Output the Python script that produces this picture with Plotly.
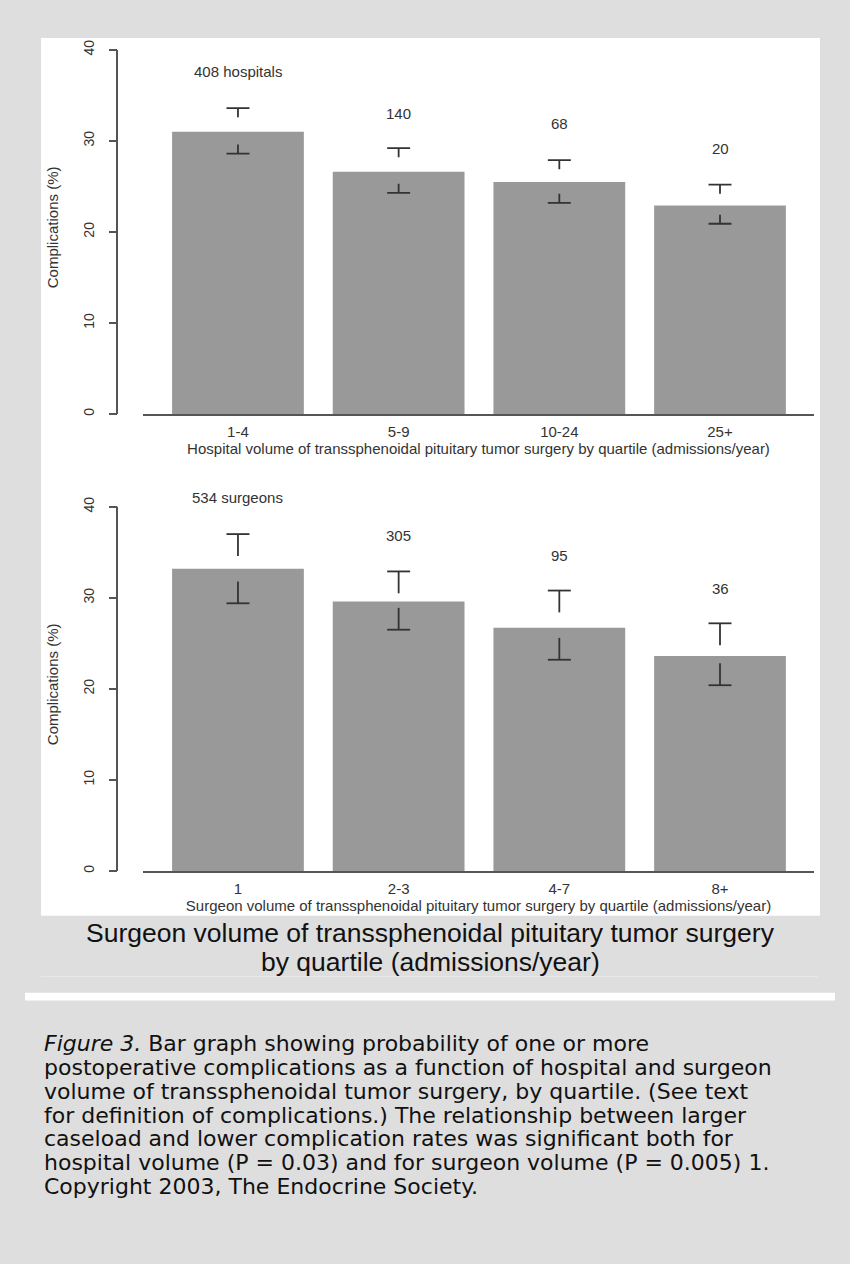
import plotly.graph_objects as go

# ---------------- data ----------------
hosp_categories = ["1-4", "5-9", "10-24", "25+"]
hosp_values = [31.0, 26.6, 25.5, 22.9]
hosp_upper = [33.6, 29.2, 27.9, 25.2]
hosp_lower = [28.6, 24.3, 23.2, 20.9]
hosp_counts = ["408 hospitals", "140", "68", "20"]
hosp_count_y = [37.6, 33.0, 31.9, 29.2]

surg_categories = ["1", "2-3", "4-7", "8+"]
surg_values = [33.2, 29.6, 26.7, 23.6]
surg_upper = [37.0, 32.9, 30.8, 27.2]
surg_lower = [29.4, 26.5, 23.2, 20.4]
surg_counts = ["534 surgeons", "305", "95", "36"]
surg_count_y = [41.0, 36.8, 34.6, 31.0]

y_ticks = [0, 10, 20, 30, 40]

hosp_xtitle = "Hospital volume of transsphenoidal pituitary tumor surgery by quartile (admissions/year)"
surg_xtitle = "Surgeon volume of transsphenoidal pituitary tumor surgery by quartile (admissions/year)"
ytitle = "Complications (%)"
caption_lines = ["Surgeon volume of transsphenoidal pituitary tumor surgery",
                 "by quartile (admissions/year)"]
figure_caption = [
    "<i>Figure 3.</i> Bar graph showing probability of one or more",
    "postoperative complications as a function of hospital and surgeon",
    "volume of transsphenoidal tumor surgery, by quartile. (See text",
    "for definition of complications.) The relationship between larger",
    "caseload and lower complication rates was significant both for",
    "hospital volume (P = 0.03) and for surgeon volume (P = 0.005) 1.",
    "Copyright 2003, The Endocrine Society.",
]

# ---------------- layout helpers ----------------
W, H = 850, 1264
def px(x):
    return x / W
def py(y):
    return 1 - y / H

FONT = "Liberation Sans, Arial, sans-serif"
CAPFONT = "DejaVu Sans, sans-serif"
TXT = "#333333"
BAR = "#999999"
ERR = "#333333"
AX = "#555555"

fig = go.Figure()

def add_panel(xa, ya, cats, vals, up, lo, counts, count_y, stem):
    xs = list(range(len(cats)))
    fig.add_trace(go.Bar(x=xs, y=vals, width=0.82, marker=dict(color=BAR, line=dict(width=0)),
                         xaxis=xa, yaxis=ya, showlegend=False, hoverinfo="skip"))
    ex, ey = [], []
    hw = 0.0715
    for i in xs:
        ex += [i - hw, i + hw, None, i, i, None, i - hw, i + hw, None, i, i, None]
        ey += [up[i], up[i], None, up[i], up[i] - stem, None,
               lo[i], lo[i], None, lo[i], lo[i] + stem, None]
    fig.add_trace(go.Scatter(x=ex, y=ey, mode="lines", line=dict(color=ERR, width=1.8),
                             xaxis=xa, yaxis=ya, showlegend=False, hoverinfo="skip",
                             cliponaxis=False))
    for i in xs:
        fig.add_annotation(x=i, y=count_y[i], xref=xa, yref=ya, text=counts[i],
                           showarrow=False, font=dict(family=FONT, size=15, color=TXT))

add_panel("x", "y", hosp_categories, hosp_values, hosp_upper, hosp_lower,
          hosp_counts, hosp_count_y, 1.0)
add_panel("x2", "y2", surg_categories, surg_values, surg_upper, surg_lower,
          surg_counts, surg_count_y, 2.4)

xrange = [-0.591, 3.585]
yrange = [0, 41]
xdom = [px(143), px(814)]

def xaxis_cfg(cats, title, anchor):
    return dict(domain=xdom, range=xrange, anchor=anchor, tickmode="array",
                tickvals=list(range(len(cats))), ticktext=cats, ticks="",
                showline=True, linecolor=AX, linewidth=2, showgrid=False, zeroline=False,
                tickfont=dict(family=FONT, size=15, color=TXT), ticklabelstandoff=3,
                title=dict(text=title, font=dict(family=FONT, size=15, color=TXT), standoff=4),
                fixedrange=True)

def yaxis_cfg(dom):
    return dict(domain=dom, range=yrange, anchor="free", position=px(117),
                tickmode="array", tickvals=y_ticks, ticks="outside", ticklen=8,
                tickcolor=AX, tickwidth=1.5, tickangle=-90, showline=False,
                showgrid=False, zeroline=False, ticklabelstandoff=9,
                tickfont=dict(family=FONT, size=14, color=TXT),
                title=dict(text=ytitle, font=dict(family=FONT, size=15, color=TXT), standoff=18),
                fixedrange=True)

top_dom = [py(414), py(414 - 41 * 9.125)]
bot_dom = [py(872), py(872 - 41 * 9.125)]

fig.update_layout(
    width=W, height=H, margin=dict(l=0, r=0, t=0, b=0),
    paper_bgcolor="#DEDEDE", plot_bgcolor="rgba(0,0,0,0)",
    xaxis=xaxis_cfg(hosp_categories, hosp_xtitle, "y"),
    yaxis=yaxis_cfg(top_dom),
    xaxis2=xaxis_cfg(surg_categories, surg_xtitle, "y2"),
    yaxis2=yaxis_cfg(bot_dom),
    bargap=0.2, hovermode=False,
)

shapes = [
    # white chart panel
    dict(type="rect", xref="paper", yref="paper", x0=px(41), x1=px(820), y0=py(917), y1=py(37),
         fillcolor="white", line=dict(width=0), layer="below"),
    # y axis lines (0..40)
    dict(type="line", xref="paper", yref="y", x0=px(117), x1=px(117), y0=0, y1=40,
         line=dict(color=AX, width=2)),
    dict(type="line", xref="paper", yref="y2", x0=px(117), x1=px(117), y0=0, y1=40,
         line=dict(color=AX, width=2)),
    # faint separator line
    dict(type="line", xref="paper", yref="paper", x0=px(41), x1=px(818), y0=py(978), y1=py(978),
         line=dict(color="#E9E9E9", width=1)),
    # white strip
    dict(type="rect", xref="paper", yref="paper", x0=px(25), x1=px(835), y0=py(1002), y1=py(994),
         fillcolor="white", line=dict(width=0), layer="below"),
]
fig.update_layout(shapes=shapes)

for i, line in enumerate(caption_lines):
    fig.add_annotation(x=px(430), y=py(934 + i * 29), xref="paper", yref="paper", text=line,
                       showarrow=False, xanchor="center", yanchor="middle",
                       font=dict(family=FONT, size=26.5, color="#111111"))

for i, line in enumerate(figure_caption):
    fig.add_annotation(x=px(42), y=py(1045 + i * 23.9), xref="paper", yref="paper", text=line,
                       showarrow=False, xanchor="left", yanchor="middle",
                       font=dict(family=CAPFONT, size=22, color="#111111"))

fig.write_html("out.html", config={"displayModeBar": False},
               post_script="document.body.style.margin='0px';document.body.style.padding='0px';")
